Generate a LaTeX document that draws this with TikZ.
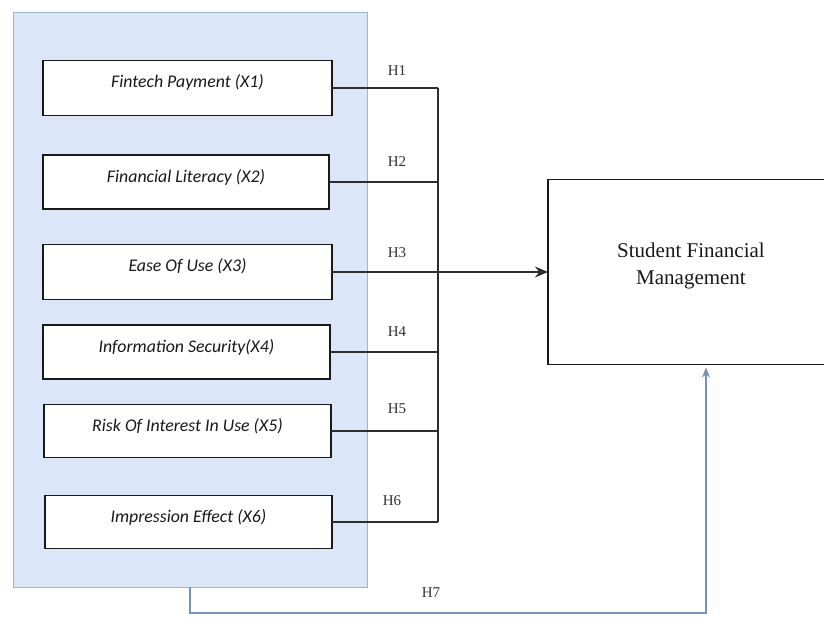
\documentclass[tikz,border=0pt]{standalone}
\usepackage{fontspec}
\setmainfont{Liberation Serif}
\newfontfamily\boxfont{Carlito}
\usetikzlibrary{arrows.meta}

\definecolor{panelfill}{RGB}{219,231,248}
\definecolor{panelline}{RGB}{160,178,204}
\definecolor{linkgray}{RGB}{45,45,45}
\definecolor{directblue}{RGB}{118,144,182}

\tikzset{
  panelbox/.style={draw=panelline, line width=1pt, fill=panelfill,
    anchor=north west, inner sep=0pt, outer sep=0pt},
  varbox/.style={draw=black!90, line width=1.8pt, fill=white, anchor=west,
    inner xsep=0pt, inner ysep=0pt, outer sep=0pt,
    text height=27pt, text depth=28pt, minimum width=289pt,
    font=\boxfont\itshape\fontsize{17.8}{20}\selectfont, text=black!90},
  outcomebox/.style={draw=black!90, line width=1.6pt, fill=white,
    anchor=north west, inner sep=0pt, outer sep=0pt,
    minimum width=286pt, minimum height=185pt},
  outcometext/.style={align=center, font=\fontsize{21}{27}\selectfont, text=black!90},
  hlabel/.style={font=\fontsize{15}{18}\selectfont, text=black!80, inner sep=0pt},
  link/.style={draw=linkgray, line width=1.3pt},
  linkarrow/.style={link, -{Stealth[length=13pt,width=11pt]}},
  directlink/.style={draw=directblue, line width=1.3pt,
    -{Stealth[length=10pt,width=8pt]}, shorten >=3pt},
}

\begin{document}
\begin{tikzpicture}[x=1pt,y=-1pt]
  \useasboundingbox (0,0) rectangle (824,619);

  % group of independent variables
  \node[panelbox, minimum width=354pt, minimum height=575pt] (panel) at (13,12) {};

  \node[varbox] (x1) at (43,88) {Fintech Payment (X1)};
  \node[varbox, minimum width=286pt, text depth=27pt] (x2) at (43,182) {Financial Literacy (X2)};
  \node[varbox] (x3) at (43,272) {Ease Of Use (X3)};
  \node[varbox, minimum width=287pt, text depth=27pt] (x4) at (43,352) {Information Security(X4)};
  \node[varbox, minimum width=287pt, text depth=26pt] (x5) at (44,431) {Risk Of Interest In Use (X5)};
  \node[varbox, minimum width=287pt, text depth=26pt] (x6) at (45,522) {Impression Effect (X6)};

  % dependent variable
  \node[outcomebox] (sfm) at (548,179.5) {};
  \node[outcometext] (sfmtext) at ([yshift=6pt]sfm.center) {Student Financial\\Management};

  % collecting bus of the partial hypotheses
  \coordinate (bus) at (438,0);
  \foreach \v in {x1,x2,x4,x5,x6}
    \draw[link] (\v.east) -- (\v.east -| bus);
  \draw[link] (x1.east -| bus) -- (x6.east -| bus);
  \draw[linkarrow] (x3.east) -- (sfm.west);

  % hypothesis labels
  \node[hlabel] (h1) at (397,70.5) {H1};
  \node[hlabel] (h2) at (397,161.5) {H2};
  \node[hlabel] (h3) at (397,253) {H3};
  \node[hlabel] (h4) at (397,331.5) {H4};
  \node[hlabel] (h5) at (397,409) {H5};
  \node[hlabel] (h6) at (392,501) {H6};
  \node[hlabel] (h7) at (431,593) {H7};

  % simultaneous hypothesis
  \coordinate (h7turn) at (706,613);
  \draw[directlink] (panel.south) |- (h7turn) -- (h7turn |- sfm.south);
\end{tikzpicture}
\end{document}
